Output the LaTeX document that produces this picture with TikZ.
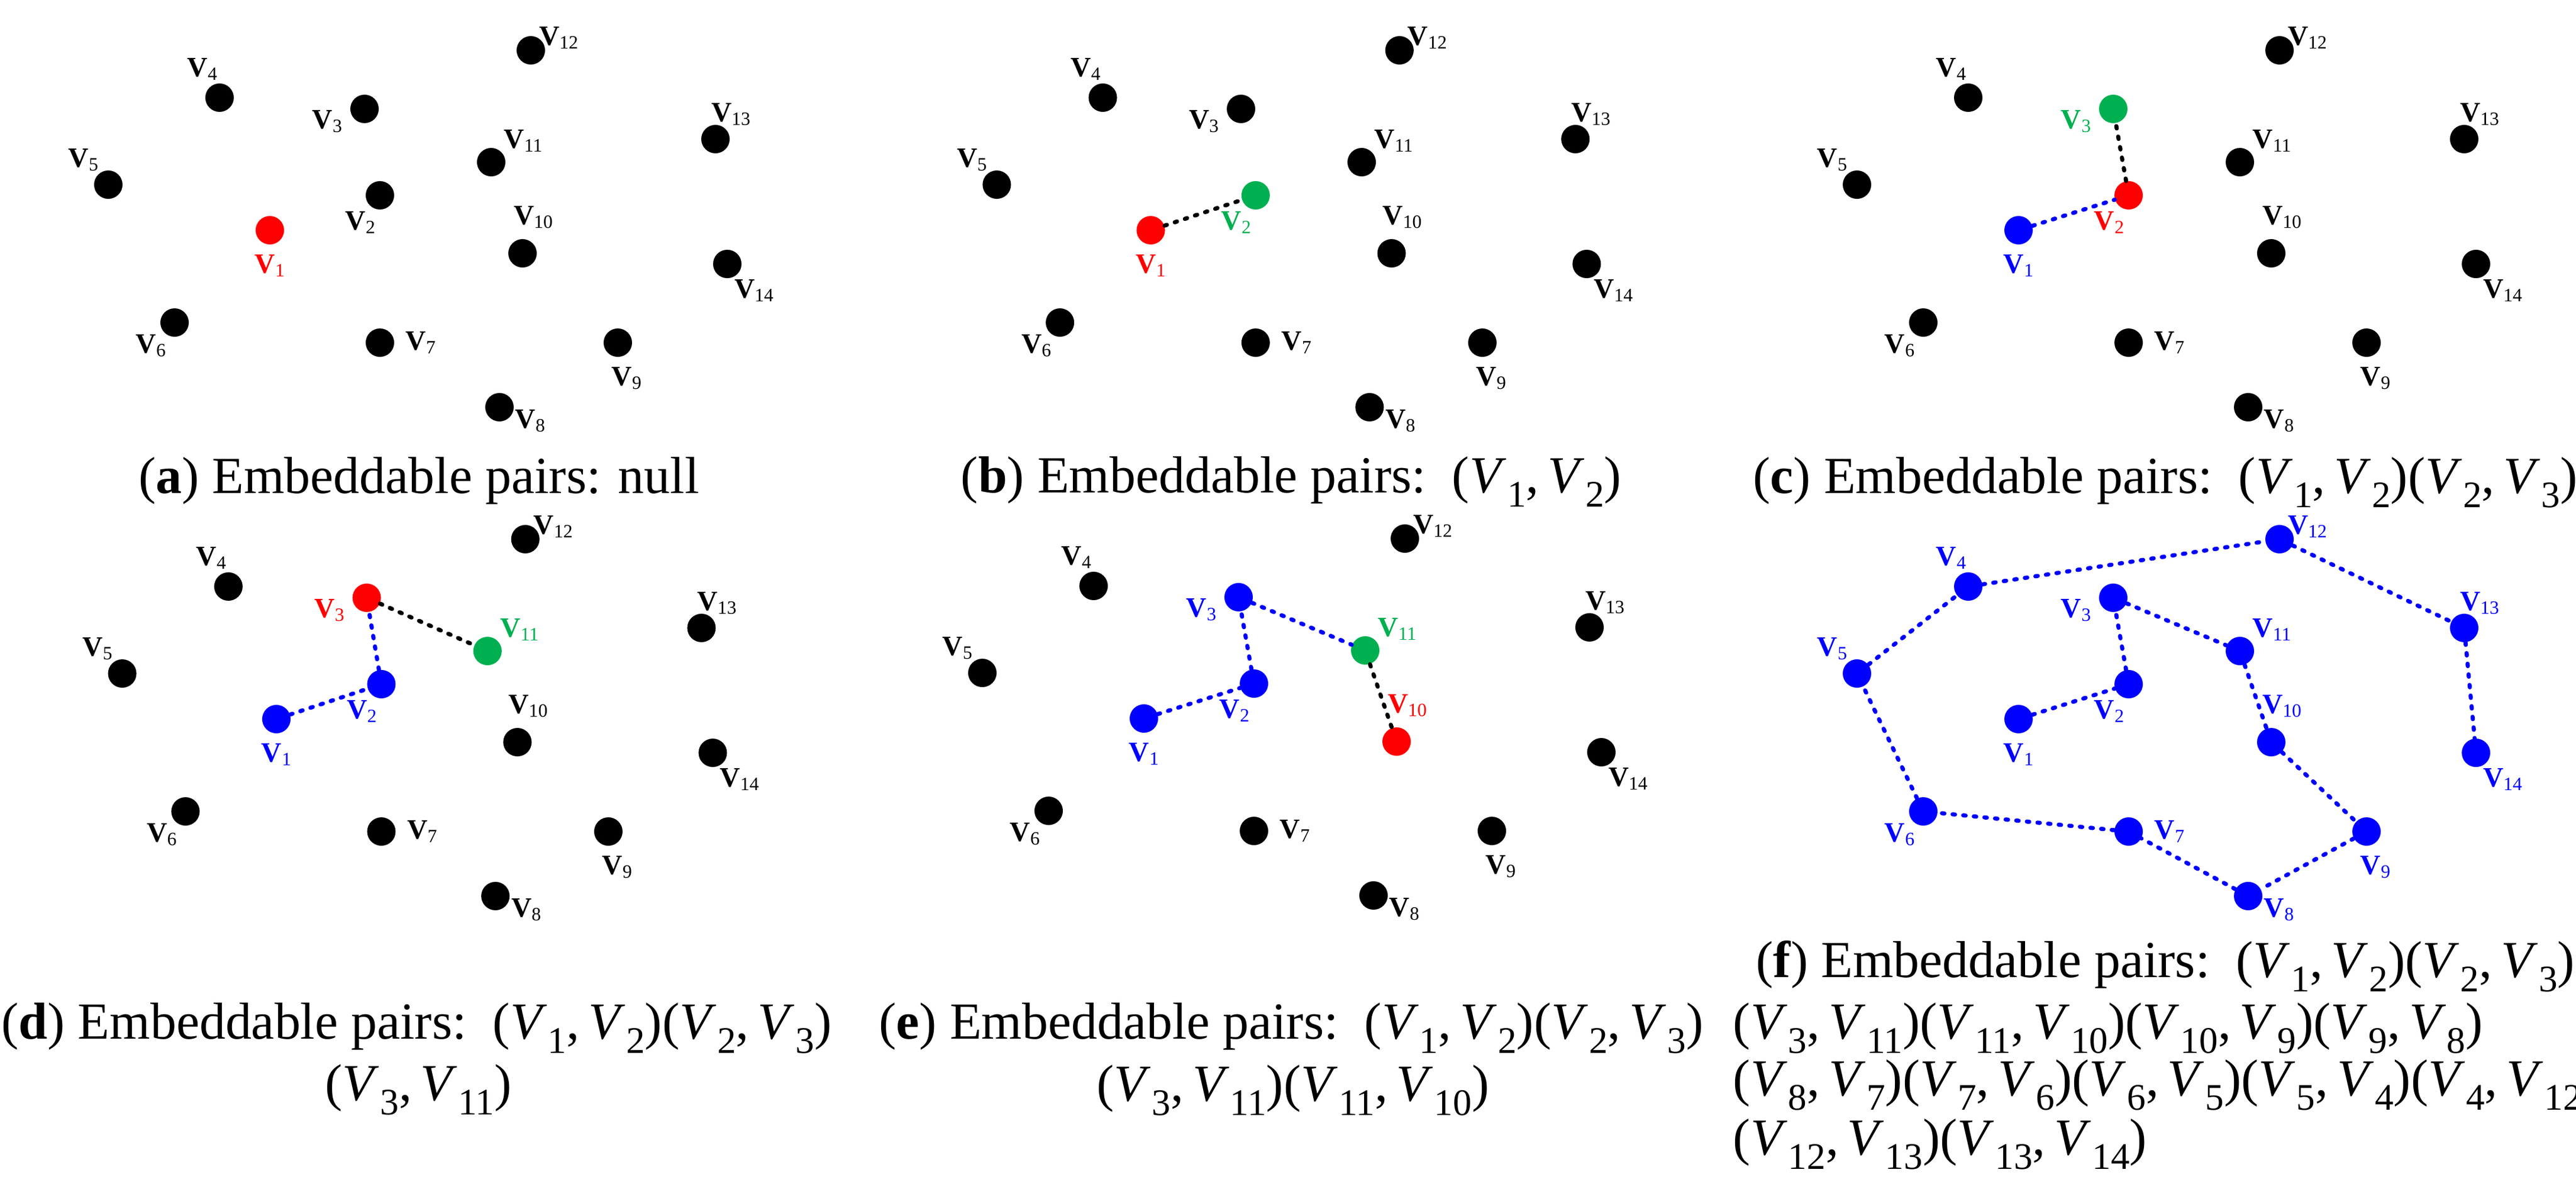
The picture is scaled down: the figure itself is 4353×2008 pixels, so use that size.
\documentclass[tikz,border=0pt]{standalone}
\usepackage{fontspec}
\setmainfont{Liberation Serif}
\definecolor{vgreen}{HTML}{00B050}
\definecolor{vblue}{HTML}{0000FF}
\definecolor{vred}{HTML}{FF0000}
\newcommand\setallcol[1]{\colorlet{col1}{#1}\colorlet{col2}{#1}\colorlet{col3}{#1}\colorlet{col4}{#1}\colorlet{col5}{#1}\colorlet{col6}{#1}\colorlet{col7}{#1}\colorlet{col8}{#1}\colorlet{col9}{#1}\colorlet{col10}{#1}\colorlet{col11}{#1}\colorlet{col12}{#1}\colorlet{col13}{#1}\colorlet{col14}{#1}}
\setallcol{black}
\newcommand\nlab[1]{\textbf{V}\raisebox{-0.12em}{\fontsize{9pt}{9pt}\selectfont #1}}
\newcommand\vv[1]{\textit{V}\kern0.02em\raisebox{-0.28em}{\fontsize{18pt}{18pt}\selectfont #1}}
\newcommand\graphpanel[1]{%
  \foreach \i/\x/\y/\dx/\dy in {1/456/389/0/60, 2/642/330/-33/46, 3/616/184/-63/21,
      4/371/165/-29/-48, 5/183/312/-42/-42, 6/295/545/-40/39, 7/642/579/69/0,
      8/844/688/52/23, 9/1044/579/15/60, 10/883/428/18/-61, 11/830/274/54/-36,
      12/897/85/47/-21, 13/1209/235/26/-42, 14/1229/446/45/45}{%
    \node[dot, fill=col\i] (#1\i) at (\x,\y) {};
    \node[lab, text=col\i, xshift={\dx*0.01cm}, yshift={-\dy*0.01cm}] (#1l\i) at (\x,\y) {\nlab{\i}};
  }}
\begin{document}
\begin{tikzpicture}[x=0.01cm,y=-0.01cm,
  dot/.style={circle, inner sep=0pt, minimum size=0.48cm, draw=none},
  lab/.style={font=\fontsize{13.5pt}{14pt}\selectfont, inner sep=0pt},
  edge/.style={line width=0.07cm, line cap=round, dash pattern=on 0.04cm off 0.14cm},
  captxt/.style={font=\fontsize{25pt}{28pt}\selectfont, inner sep=0pt, anchor=base}]
\useasboundingbox (0,0) rectangle (4353,2008);
% (a)
\begin{scope}
  \colorlet{col1}{vred}
  \graphpanel{a}
\end{scope}
% (b)
\begin{scope}[shift={(1510,0)}, xscale=0.953]
  \colorlet{col1}{vred}\colorlet{col2}{vgreen}
  \graphpanel{b}
  \draw[edge, black] (b1) -- (b2);
\end{scope}
% (c)
\begin{scope}[shift={(2955,0)}]
  \colorlet{col1}{vblue}\colorlet{col2}{vred}\colorlet{col3}{vgreen}
  \graphpanel{c}
  \draw[edge, vblue] (c1) -- (c2);
  \draw[edge, black] (c2) -- (c3);
\end{scope}
% (d)
\begin{scope}[shift={(32,826)}, xscale=0.954]
  \colorlet{col1}{vblue}\colorlet{col2}{vblue}\colorlet{col3}{vred}\colorlet{col11}{vgreen}
  \graphpanel{d}
  \draw[edge, vblue] (d1) -- (d2);
  \draw[edge, vblue] (d2) -- (d3);
  \draw[edge, black] (d3) -- (d11);
\end{scope}
% (e)
\begin{scope}[shift={(1477,825)}]
  \colorlet{col1}{vblue}\colorlet{col2}{vblue}\colorlet{col3}{vblue}\colorlet{col11}{vgreen}\colorlet{col10}{vred}
  \graphpanel{e}
  \draw[edge, vblue] (e1) -- (e2);
  \draw[edge, vblue] (e2) -- (e3);
  \draw[edge, vblue] (e3) -- (e11);
  \draw[edge, black] (e11) -- (e10);
\end{scope}
% (f)
\begin{scope}[shift={(2955,826)}]
  \setallcol{vblue}
  \graphpanel{f}
  \foreach \a/\b in {1/2,2/3,3/11,11/10,10/9,9/8,8/7,7/6,6/5,5/4,4/12,12/13,13/14}
    {\draw[edge, vblue] (f\a) -- (f\b);}
\end{scope}
% captions
\node[captxt] (capa) at (708,833) {(\textbf{a}) Embeddable pairs: null};
\node[captxt] (capb) at (2182,832) {(\textbf{b}) Embeddable pairs:\ \ (\vv1,\,\vv2)};
\node[captxt] (capc) at (3659,833) {(\textbf{c}) Embeddable pairs:\ \ (\vv1,\,\vv2)(\vv2,\,\vv3)};
\node[captxt] (capd) at (704,1755) {(\textbf{d}) Embeddable pairs:\ \ (\vv1,\,\vv2)(\vv2,\,\vv3)};
\node[captxt] (capd2) at (707,1859) {(\vv3,\,\vv{11})};
\node[captxt] (cape) at (2182,1755) {(\textbf{e}) Embeddable pairs:\ \ (\vv1,\,\vv2)(\vv2,\,\vv3)};
\node[captxt] (cape2) at (2185,1860) {(\vv3,\,\vv{11})(\vv{11},\,\vv{10})};
\node[captxt] (capf) at (3659,1651) {(\textbf{f}) Embeddable pairs:\ \ (\vv1,\,\vv2)(\vv2,\,\vv3)};
\node[captxt, anchor=base west] (capf2) at (2928,1755) {(\vv3,\,\vv{11})(\vv{11},\,\vv{10})(\vv{10},\,\vv9)(\vv9,\,\vv8)};
\node[captxt, anchor=base west] (capf3) at (2928,1851) {(\vv8,\,\vv7)(\vv7,\,\vv6)(\vv6,\,\vv5)(\vv5,\,\vv4)(\vv4,\,\vv{12})};
\node[captxt, anchor=base west] (capf4) at (2928,1951) {(\vv{12},\,\vv{13})(\vv{13},\,\vv{14})};
\end{tikzpicture}
\end{document}
